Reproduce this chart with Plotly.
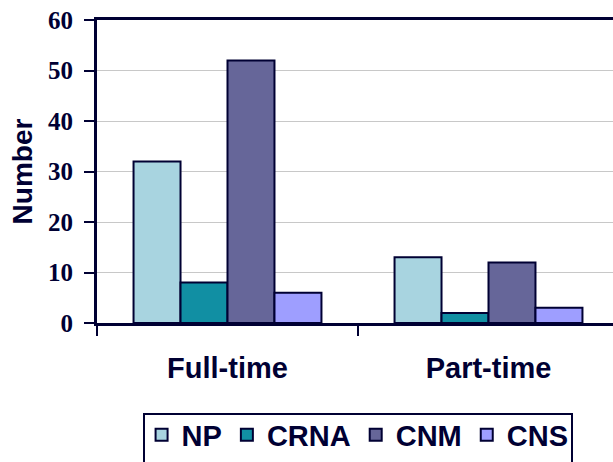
import plotly.graph_objects as go

# categories and series
categories = ["Full-time", "Part-time"]
series_names = ["NP", "CRNA", "CNM", "CNS"]
np_values = [32, 13]
crna_values = [8, 2]
cnm_values = [52, 12]
cns_values = [6, 3]
y_ticks = [0, 10, 20, 30, 40, 50, 60]

colors = ["#A8D4E0", "#118FA3", "#666699", "#9E9EFF"]
navy = "#000033"
sans = "Liberation Sans, Arial, sans-serif"

fig = go.Figure()
for name, vals, col in zip(series_names, [np_values, crna_values, cnm_values, cns_values], colors):
    fig.add_trace(go.Bar(
        x=categories, y=vals, name=name,
        marker=dict(color=col, line=dict(color=navy, width=2)),
    ))

fig.update_layout(
    width=613, height=462,
    margin=dict(l=97, r=0, t=20, b=139, autoexpand=False),
    paper_bgcolor="white", plot_bgcolor="white",
    barmode="group", bargap=0.28, bargroupgap=0,
    font=dict(family=sans, color=navy),
    showlegend=True,
    legend=dict(
        orientation="h", x=0.505, xanchor="center", y=-0.285, yanchor="top",
        font=dict(size=29, family=sans, color=navy, weight="bold"),
        itemwidth=30, borderwidth=0, bgcolor="rgba(0,0,0,0)",
        traceorder="normal",
    ),
)

# legend frame (bottom edge runs off the image like in the source)
fig.add_shape(type="rect", xref="paper", yref="paper",
              x0=(144 - 97) / 516, x1=(572 - 97) / 516,
              y0=(323 - 475) / 303, y1=(323 - 414) / 303,
              line=dict(color=navy, width=2), fillcolor="rgba(0,0,0,0)")

fig.update_xaxes(
    range=[-0.5, 1.477],
    showline=True, linecolor=navy, linewidth=3, mirror=True,
    ticks="outside", tickson="boundaries", ticklen=10, tickwidth=2, tickcolor=navy,
    tickfont=dict(size=29, family=sans, color=navy, weight="bold"),
    ticklabelstandoff=17,
    showgrid=False,
)
fig.update_yaxes(
    range=[0, 60], tickvals=y_ticks,
    showline=True, linecolor=navy, linewidth=3,
    ticks="outside", ticklen=10, tickwidth=2, tickcolor=navy,
    tickfont=dict(size=25, family="Liberation Serif, Times New Roman, serif", color=navy, weight="bold"),
    ticklabelstandoff=6,
    showgrid=True, gridcolor="#C8C8C8", gridwidth=1,
    zeroline=False,
    title=dict(text="Number", standoff=8,
               font=dict(size=28, family=sans, color=navy, weight="bold")),
)

# page body has a default 8px margin; drop it so the figure sits at the corner
fig.write_html("out.html", config={"displayModeBar": False},
               post_script="document.body.style.margin='0';")
